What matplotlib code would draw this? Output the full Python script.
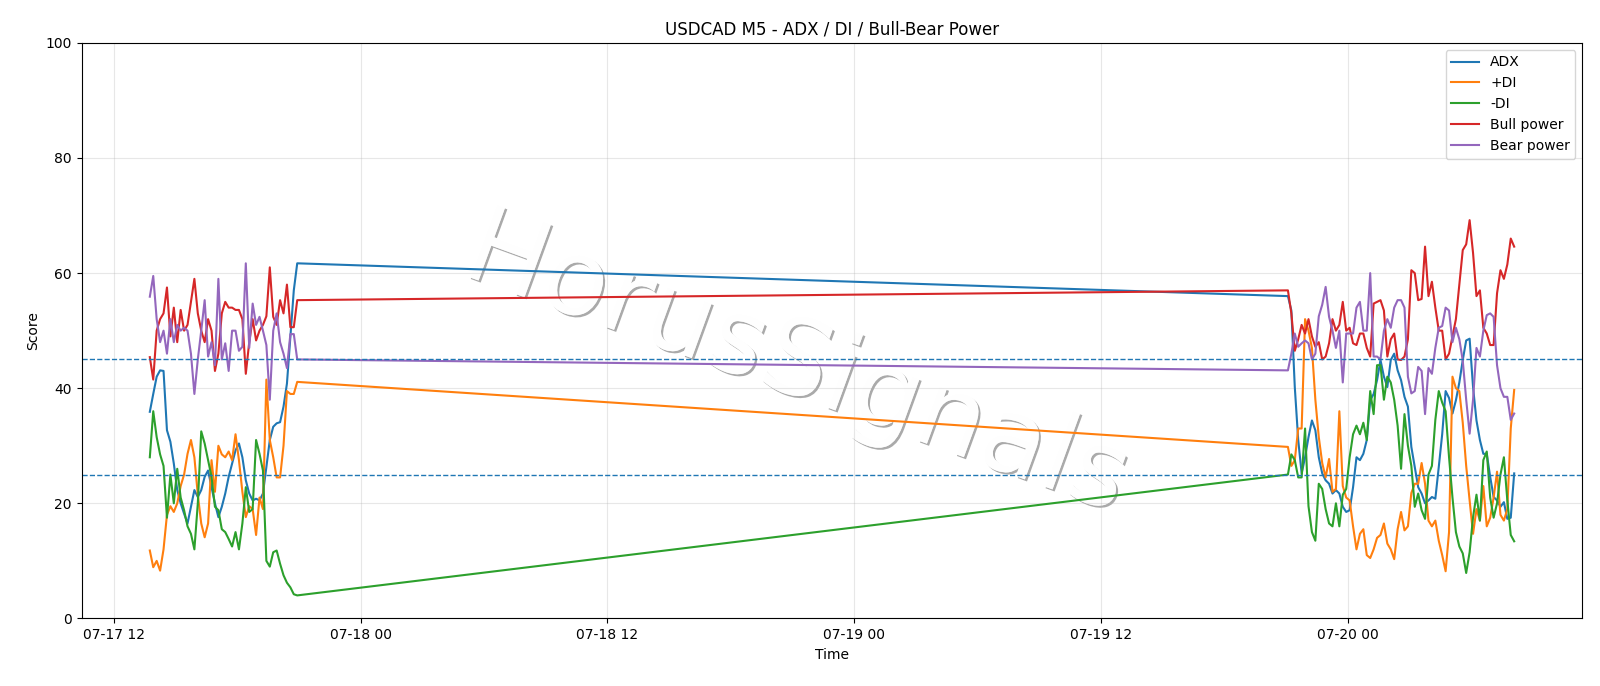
import pandas as pd
import matplotlib
matplotlib.use('Agg')
import matplotlib.pyplot as plt
import matplotlib.dates as mdates
import matplotlib.patheffects as pe

# 5-minute chart, values sampled every 10 minutes (two sessions, weekend gap)
times_fri = pd.date_range('2020-07-17 13:45', '2020-07-17 20:55', freq='10min')
times_sun = pd.date_range('2020-07-19 21:05', '2020-07-20 08:05', freq='10min')

adx_fri = [35.9, 39, 42, 43.1, 43, 32.7, 30.7, 26.9, 22.3, 20, 18.2, 16.5, 19.4, 22.3, 21.1,
           22.3, 24.6, 25.7, 22.8, 20, 17.6, 19.4, 21.7, 24.6, 26.9, 29.2, 30.4, 28, 24, 21.7,
           20.5, 20.8, 20.5, 21.7, 26.3, 31, 33.3, 33.9, 34.1, 36.8, 40.8, 48.9, 57, 61.7]
adx_sun = [56, 53.5, 40.2, 31, 25.2, 28, 31.5, 34.4, 32.7, 28, 25.2, 24, 23.4, 21.7, 22.3,
           21.7, 19.4, 18.5, 18.8, 22.8, 28,
           27.5, 28.6, 31, 37.9, 39, 41.4, 44.9, 42, 40.2, 44.9, 46, 43.1, 41.4, 38.5, 36.8,
           29.8, 26.3, 22.8, 21.7, 20, 20.5, 21.1,
           20.8, 26.3, 32, 39.5, 38.3, 35.6, 37.9, 41, 44.9, 48.3, 48.6, 40.2, 34.4, 31, 28.6,
           28.6, 24.6, 21.1, 20.5, 19.4, 20.2, 17.3, 17.5, 25.2]

pdi_fri = [11.8, 8.9, 10, 8.3, 12, 18, 19.5, 18.5, 20, 23, 25, 28.6, 31, 28, 21.5,
           16.5, 14.1, 16.5, 27.5, 22, 30, 28.5, 28, 29, 27.5, 32, 27.5, 22, 17.6, 19.5,
           19, 14.5, 21, 19, 41.5, 31, 28, 24.5, 24.5, 30, 39.5, 39, 39, 41.1]
pdi_sun = [29.8, 26.5, 27.5, 33, 33, 52, 50, 47, 38, 31.5, 27, 24.5, 27.7, 22, 22.5,
           36, 23, 21, 20.5, 16, 12,
           14.7, 15.5, 11, 10.5, 12, 14, 14.5, 16.5, 13, 12, 10.3, 15.5, 18.5, 15.3, 16,
           21.8, 23.4, 23.4, 27, 23.4, 17, 16,
           17, 13.5, 11, 8.2, 15, 42, 40, 39.5, 34, 26.5, 20.5, 14.7, 19, 17, 23,
           16, 17.5, 21, 25.5, 18, 17, 19, 33, 39.7]

mdi_fri = [28, 36, 31.5, 28.5, 26.5, 17.5, 25, 20, 26, 21, 18.8, 16, 14.7, 12, 20,
           32.5, 30.4, 27.5, 24.6, 19.4, 18.8, 15.5, 15, 13.8, 12.5, 15, 12, 16.5, 22.8, 18.5,
           19, 31, 28.6, 25.7, 10, 9, 11.5, 11.8, 9.5, 7.5, 6.2, 5.4, 4.2, 4.0]
mdi_sun = [25, 28.5, 27.5, 24.5, 24.5, 33, 19.5, 15, 13.5, 23.4, 22.5, 19, 16.5, 16, 20,
           16, 21.5, 22.5, 28, 32, 33.5,
           32, 34, 31, 39.5, 35.5, 44, 44, 38, 42, 41, 38, 33.5, 26, 35.5, 30,
           26.5, 19.4, 21.7, 18.8, 17.3, 25, 26.5,
           34.5, 39.5, 37.5, 36, 28, 21, 15, 12.5, 11.3, 7.9, 11.5, 17.6, 21.5, 17, 27.5,
           29, 21, 17.5, 20, 25, 28, 20.5, 14.5, 13.4]

bull_fri = [45.4, 41.5, 50, 52, 53, 57.5, 49, 54, 48, 53.6, 50, 51, 55, 59, 53,
            50, 48, 52, 50, 43, 46, 53, 55, 54, 54, 53.6, 53.6, 52, 42.5, 48,
            52, 48.3, 50, 51, 52.5, 61, 52.4, 51, 55.3, 53, 58, 50.6, 50.6, 55.3]
bull_sun = [57, 53, 46.5, 48.5, 51, 49.5, 52, 49, 47.2, 48, 45, 45.5, 47.8, 52, 50,
            51, 55, 50, 50.5, 47.8, 47.5,
            49.5, 49.5, 47, 45.5, 54.7, 55, 55.3, 53.5, 45.5, 48.5, 49.5, 45, 44.9, 45.5, 48.5,
            60.5, 60, 55.3, 55.5, 64.6, 56, 58.5,
            54, 50, 50, 45, 46, 49, 52, 58, 64, 65, 69.2, 63.5, 56, 57, 50.5,
            49.5, 47.5, 47.5, 56.5, 60.5, 59, 61.5, 66, 64.6]

bear_fri = [55.9, 59.5, 52, 48, 50, 46, 52, 48, 51, 50, 50.5, 50, 46, 39, 45,
            50, 55.3, 45.5, 48, 44, 59, 45, 47.8, 43, 50, 50, 46.5, 47.2, 61.7, 47,
            54.7, 51, 52.4, 50, 47.5, 38, 50, 53, 48, 46, 43.5, 49.4, 49.4, 45]
bear_sun = [43.1, 46, 49.5, 47.2, 47.8, 48.3, 47.8, 45, 46, 52.5, 54.5, 57.6, 52.4, 50, 47,
            50, 41, 49.5, 49.5, 49.5, 54,
            55, 50, 50, 60, 45.5, 45.5, 45, 50, 52, 50.5, 54, 55.3, 55.3, 54, 42,
            39.1, 39.5, 43.7, 43, 35.5, 43.5, 42.5,
            47, 50.5, 50.8, 54, 53.5, 48, 50.5, 48.5, 44.8, 38, 32.1, 38, 47, 45.5, 50,
            52.7, 53, 52.4, 44, 40, 38.5, 38.5, 34.5, 35.6]

levels = [45, 25]

times = times_fri.append(times_sun)
series = [
    ('ADX', adx_fri + adx_sun),
    ('+DI', pdi_fri + pdi_sun),
    ('-DI', mdi_fri + mdi_sun),
    ('Bull power', bull_fri + bull_sun),
    ('Bear power', bear_fri + bear_sun),
]

fig, ax = plt.subplots(figsize=(16, 6.86), dpi=100)
fig.subplots_adjust(left=0.051, right=0.989, top=0.9375, bottom=0.0985)

for label, vals in series:
    ax.plot(times, vals, label=label, linewidth=1.5)

for lvl in levels:
    ax.axhline(lvl, linestyle='--', linewidth=1, color='tab:blue')

ax.set_ylim(0, 100)
ax.set_title('USDCAD M5 - ADX / DI / Bull-Bear Power')
ax.set_xlabel('Time')
ax.set_ylabel('Score')
ax.grid(True, alpha=0.3)
ax.xaxis.set_major_locator(mdates.HourLocator(byhour=[0, 12]))
ax.xaxis.set_major_formatter(mdates.DateFormatter('%m-%d %H'))
ax.legend(loc='upper right')

# watermark under the lines: white text with a thin grey drop shadow
wm = ax.text(0.498, 0.468, 'HorusSignals', fontsize=77, transform=fig.transFigure,
             color='white', alpha=0.9, rotation=-20, ha='center', va='center', zorder=1.5)
wm.set_path_effects([
    pe.withSimplePatchShadow(offset=(1.5, -1.5), shadow_rgbFace='#444444', alpha=0.45),
    pe.Normal(),
])

plt.savefig('out.png', dpi=100)
plt.close()
